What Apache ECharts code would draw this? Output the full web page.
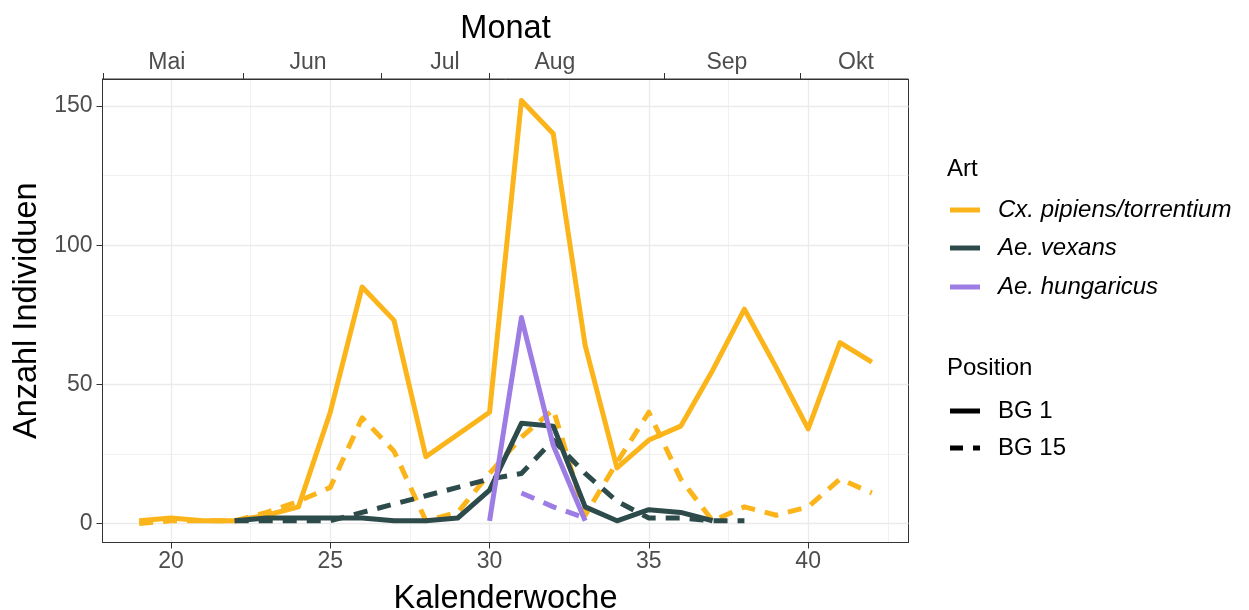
<!DOCTYPE html>
<html>
<head>
<meta charset="utf-8">
<script src="https://cdn.jsdelivr.net/npm/echarts@6/dist/echarts.min.js"></script>
<style>html,body{margin:0;padding:0;background:#fff;}#c{width:1249px;height:610px;}</style>
</head>
<body>
<div id="c"></div>
<script>
// ---- data ----
var weeks = [19,20,21,22,23,24,25,26,27,28,29,30,31,32,33,34,35,36,37,38,39,40,41,42];
var cxBG1  = [1,2,1,1,3,6,40,85,73,24,32,40,152,140,64,20,30,35,55,77,56,34,65,58];
var cxBG15 = [0,1,1,1,4,8,13,38,26,1,4,18,31,41,3,22,40,16,1,6,3,6,16,11];
var vexBG1  = [null,null,null,1,2,2,2,2,1,1,2,12,36,35,6,1,5,4,1,null,null,null,null,null];
var vexBG15 = [null,null,null,1,1,1,1,4,7,10,13,16,18,30,18,8,2,2,1,1,null,null,null,null];
var hungBG1  = [null,null,null,null,null,null,null,null,null,null,null,1,74,28,1,null,null,null,null,null,null,null,null,null];
var hungBG15 = [null,null,null,null,null,null,null,null,null,null,null,null,11,6,2,null,null,null,null,null,null,null,null,null];

var xTicks = [20,25,30,35,40];
var xMinor = [22.5,27.5,32.5,37.5,42.5];
var yTicks = [0,50,100,150];
var yMinor = [25,75,125];
var monthNames = ['Mai','Jun','Jul','Aug','Sep','Okt'];
var monthLabelPos = [19.87,24.30,28.60,32.05,37.45,41.5];
var monthBreaks = [17.86,22.26,26.6,30.0,35.47,39.75];

var speciesNames = ['Cx. pipiens/torrentium','Ae. vexans','Ae. hungaricus'];
var positionNames = ['BG 1','BG 15'];
var colors = ['#FBB51B','#2E4B4B','#9D7DE4'];

function pairs(vals){ return weeks.map(function(w,i){ return [w, vals[i]]; }); }

var XMIN = 17.85, XMAX = 43.15, YMIN = -6.8, YMAX = 159.7;
var GL = 102.5, GR = 908.5, GT = 79, GB = 542.5;
var tickColor = '#333333', labColor = '#4D4D4D', gridColor = '#EBEBEB';
var FONT = 'Liberation Sans, Arial, sans-serif';
var DASH = [14,10];

function mkSeries(name, vals, color, dashed){
  return {
    type:'line', name:name, data:pairs(vals), xAxisIndex:0, yAxisIndex:0,
    showSymbol:false, symbol:'none', connectNulls:false, animation:false,
    lineStyle:{color:color, width:5, type: dashed ? DASH : 'solid', cap:'butt', join:'round'},
    z: 3
  };
}

var chart = echarts.init(document.getElementById('c'), null, {renderer:'canvas'});

var legendX = 950, legendTextX = 998;
function txt(x, y, s, size, opts){
  opts = opts || {};
  return {type:'text', x:x, y:y, rotation: opts.rotation || 0, z:10,
    style:{text:s, font:(opts.italic ? 'italic ' : '') + size + 'px ' + FONT, fill: opts.fill || '#000',
           align: opts.align || 'left', verticalAlign:'middle'}};
}
var graphics = [
  txt((GL+GR)/2, 29, 'Monat', 32.5, {align:'center'}),
  txt((GL+GR)/2, 599, 'Kalenderwoche', 32.5, {align:'center'}),
  txt(27, (GT+GB)/2, 'Anzahl Individuen', 32.5, {align:'center', rotation: Math.PI/2}),
  txt(947, 169, 'Art', 24),
  txt(947, 368, 'Position', 24)
];
var itemY = [210,248,287];
speciesNames.forEach(function(n,i){
  graphics.push({type:'line', shape:{x1:legendX, y1:itemY[i], x2:legendX+30, y2:itemY[i]}, style:{stroke:colors[i], lineWidth:5}});
  graphics.push(txt(legendTextX, itemY[i], n, 24, {italic:true}));
});
var posY = [411,448];
positionNames.forEach(function(n,i){
  graphics.push({type:'line', shape:{x1:legendX, y1:posY[i], x2:legendX+30, y2:posY[i]}, style:{stroke:'#000', lineWidth:5, lineDash: i ? [13,10] : null}});
  graphics.push(txt(legendTextX, posY[i], n, 24));
});

var option = {
  animation:false,
  backgroundColor:'#fff',
  textStyle:{fontFamily:FONT},
  grid:{left:GL, right:1249-GR, top:GT, bottom:610-GB, show:true, borderColor:'#333333', borderWidth:1, backgroundColor:'#fff'},
  xAxis:[
    {type:'value', min:XMIN, max:XMAX, position:'bottom',
     axisLine:{show:true, onZero:false, lineStyle:{color:tickColor, width:1}},
     axisTick:{show:true, length:6, customValues:xTicks, lineStyle:{color:tickColor}},
     axisLabel:{show:true, customValues:xTicks, color:labColor, fontSize:23, margin:8, fontFamily:FONT},
     splitLine:{show:true, lineStyle:{color:gridColor, width:1.3}}},
    {type:'value', min:XMIN, max:XMAX, position:'top',
     axisLine:{show:true, onZero:false, lineStyle:{color:tickColor, width:1}},
     axisTick:{show:true, length:6, customValues:monthBreaks, lineStyle:{color:tickColor}},
     axisLabel:{show:true, customValues:monthLabelPos, color:labColor, fontSize:23, margin:5, fontFamily:FONT,
       formatter:function(v){ var best=0, bd=1e9; monthLabelPos.forEach(function(p,i){ var d=Math.abs(p-v); if(d<bd){bd=d;best=i;} }); return monthNames[best]; }},
     splitLine:{show:false}},
    {type:'value', min:XMIN, max:XMAX, position:'bottom',
     axisLine:{show:false}, axisTick:{show:false, customValues:xMinor}, axisLabel:{show:false, customValues:xMinor},
     splitLine:{show:true, lineStyle:{color:gridColor, width:0.7}}}
  ],
  yAxis:[
    {type:'value', min:YMIN, max:YMAX, position:'left',
     axisLine:{show:true, onZero:false, lineStyle:{color:tickColor, width:1}},
     axisTick:{show:true, length:6, customValues:yTicks, lineStyle:{color:tickColor}},
     axisLabel:{show:true, customValues:yTicks, color:labColor, fontSize:23, margin:10, fontFamily:FONT},
     splitLine:{show:true, lineStyle:{color:gridColor, width:1.3}}},
    {type:'value', min:YMIN, max:YMAX, position:'right',
     axisLine:{show:false}, axisTick:{show:false, customValues:yMinor}, axisLabel:{show:false, customValues:yMinor},
     splitLine:{show:true, lineStyle:{color:gridColor, width:0.7}}}
  ],
  series:[
    mkSeries('Cx BG 15', cxBG15, colors[0], true),
    mkSeries('Cx BG 1', cxBG1, colors[0], false),
    mkSeries('vex BG 15', vexBG15, colors[1], true),
    mkSeries('vex BG 1', vexBG1, colors[1], false),
    mkSeries('hung BG 15', hungBG15, colors[2], true),
    mkSeries('hung BG 1', hungBG1, colors[2], false)
  ],
  graphic: graphics
};
chart.setOption(option);
</script>
</body>
</html>
